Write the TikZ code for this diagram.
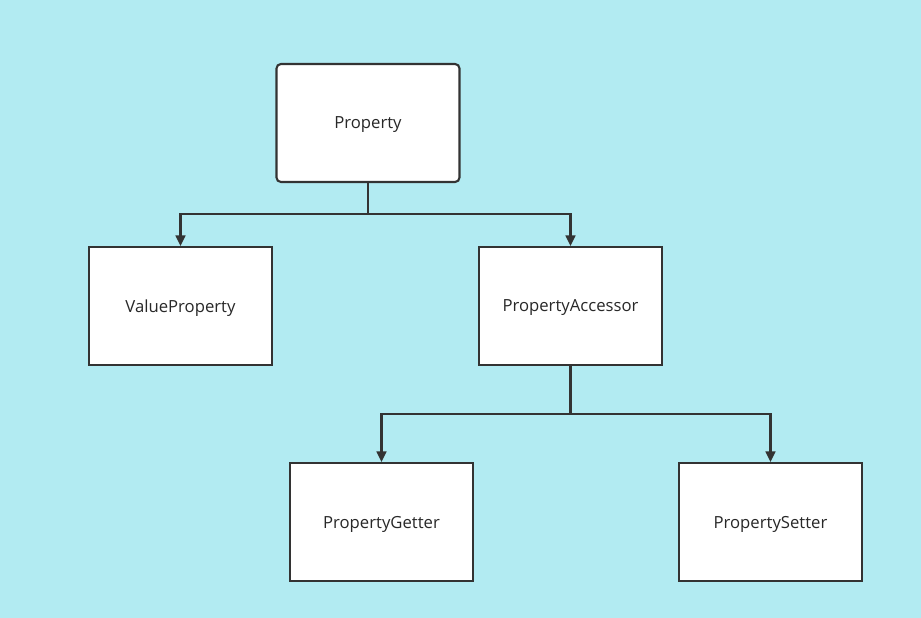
\documentclass[tikz,border=0pt]{standalone}
\usepackage{fontspec}
\setmainfont{Open Sans}
\usepackage{tikz}
\usetikzlibrary{arrows.meta}
\definecolor{bgcyan}{RGB}{178, 235, 242}
\definecolor{edgegray}{RGB}{51, 51, 51}
\definecolor{textgray}{RGB}{40, 40, 40}

\begin{document}
\begin{tikzpicture}[x=0.02cm, y=-0.02cm,
  classbox/.style={draw=edgegray, fill=white, line width=1.2pt,
    minimum width=3.66cm, minimum height=2.36cm, inner sep=0pt,
    text depth=0pt,
    text=textgray, font=\fontsize{9.5}{11}\selectfont},
  link/.style={draw=edgegray, line width=1.3pt},
  arr/.style={link, -{Triangle[length=6pt, width=5.5pt]}}]

  % canvas
  \fill[bgcyan] (0, 0) rectangle (921, 618);
  \useasboundingbox (0, 0) rectangle (921, 618);

  % classes
  \node[classbox, rounded corners=2.5pt] (prop) at (368, 123) {Property};
  \node[classbox] (valprop) at (180.5, 306) {ValueProperty};
  \node[classbox] (accessor) at (570.5, 306) {PropertyAccessor};
  \node[classbox] (getter) at (381.5, 522) {PropertyGetter};
  \node[classbox] (setter) at (770.5, 522) {PropertySetter};

  % branch points
  \coordinate (fork1) at (368, 214);
  \coordinate (fork2) at (570.5, 414);

  \draw[link] (prop.south) -- (fork1);
  \draw[arr] (fork1) -| (valprop.north);
  \draw[arr] (fork1) -| (accessor.north);

  \draw[link] (accessor.south) -- (fork2);
  \draw[arr] (fork2) -| (getter.north);
  \draw[arr] (fork2) -| (setter.north);

\end{tikzpicture}
\end{document}
